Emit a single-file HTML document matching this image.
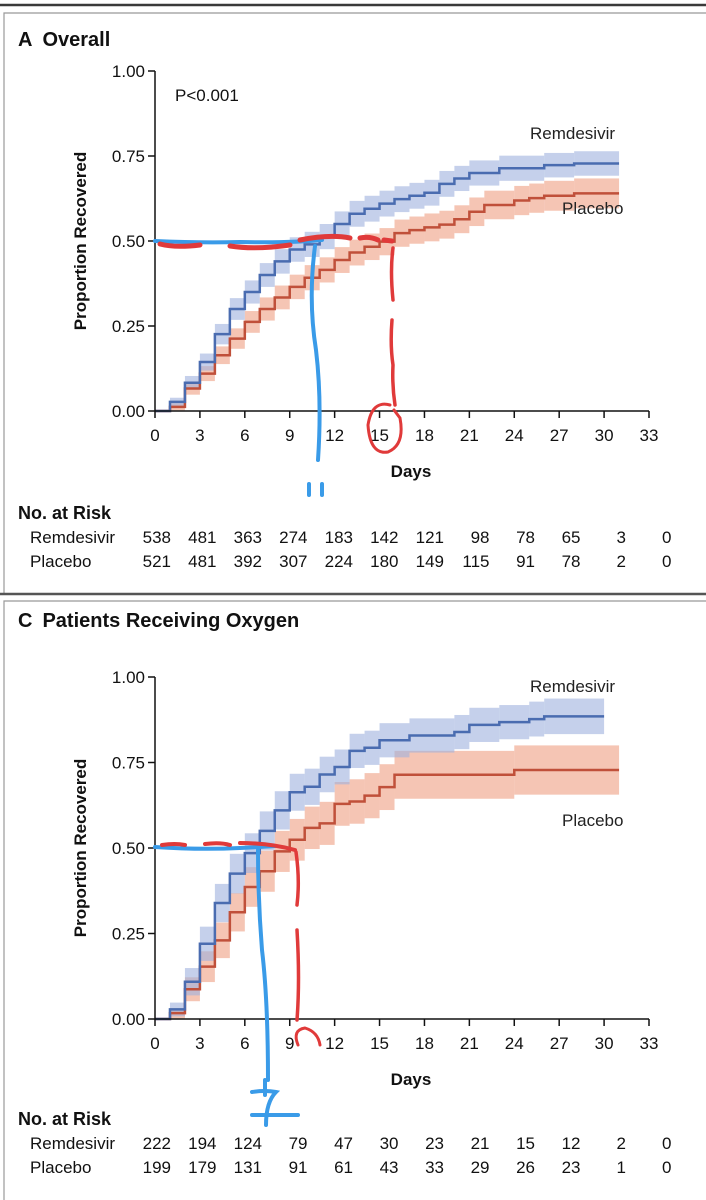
<!DOCTYPE html>
<html><head><meta charset="utf-8"><style>
html,body{margin:0;padding:0;background:#fff;}
svg{display:block;font-family:"Liberation Sans Narrow","Liberation Sans",sans-serif;}
</style></head><body>
<svg id="s" width="706" height="1200" viewBox="0 0 706 1200" xmlns="http://www.w3.org/2000/svg">
<rect x="0" y="0" width="706" height="1200" fill="#fff"/>
<line x1="0" y1="5" x2="706" y2="5" stroke="#3a3a3a" stroke-width="2.5"/>
<path d="M4 595 V13 H706" fill="none" stroke="#999" stroke-width="1.2"/>
<line x1="0" y1="594" x2="706" y2="594" stroke="#555" stroke-width="2.5"/>
<path d="M4 1200 V601 H706" fill="none" stroke="#999" stroke-width="1.2"/>
<text x="18" y="46" font-size="20" font-weight="bold" fill="#111">A<tspan dx="10">Overall</tspan></text>
<text x="18" y="627" font-size="20" font-weight="bold" fill="#111">C<tspan dx="10">Patients Receiving Oxygen</tspan></text>
<g id="chartA"></g>
<g id="chartC"></g>
<g id="annot" fill="none" stroke-linecap="round">
<path d="M155 241 Q200 243 240 242 Q290 243 322 240" stroke="#3a9be8" stroke-width="4"/>
<path d="M315 246 Q308 300 316 350 Q322 400 318 460" stroke="#3a9be8" stroke-width="4"/>
<path d="M309 484 V495 M322 484 V495" stroke="#3a9be8" stroke-width="4"/>
<path d="M160 244 Q175 248 200 245 M230 246 Q255 250 290 245 M300 240 Q330 234 350 238 M360 238 Q370 236 378 240 M384 240 L392 241" stroke="#e03a3a" stroke-width="5"/>
<path d="M393 248 Q390 270 393 300 M392 320 Q390 345 393 365 Q392 385 395 405" stroke="#e03a3a" stroke-width="3.5"/>
<path d="M390 405 Q372 400 368 425 Q370 455 388 452 Q405 445 400 418 L394 410" stroke="#e03a3a" stroke-width="3"/>
<path d="M155 847 Q200 850 240 848 Q260 847 275 846" stroke="#3a9be8" stroke-width="4"/>
<path d="M258 850 Q258 900 262 950 Q268 1000 268 1080 M265 1080 V1095" stroke="#3a9be8" stroke-width="4"/>
<path d="M252 1092 Q265 1090 276 1092 Q266 1102 266 1125 M252 1115 H298" stroke="#3a9be8" stroke-width="4"/>
<path d="M162 845 Q175 843 185 845 M205 844 Q220 842 230 845 M240 843 Q270 843 295 850" stroke="#e03a3a" stroke-width="4"/>
<path d="M296 852 Q300 880 297 905 M297 930 Q300 980 297 1020" stroke="#e03a3a" stroke-width="3.5"/>
<path d="M298 1045 Q292 1030 305 1028 Q318 1032 320 1045" stroke="#e03a3a" stroke-width="3"/>
</g>
</svg>
<script>
// ---- data: Panel A (Overall) ----
const xTickLabels = [0,3,6,9,12,15,18,21,24,27,30,33];
const yTickLabels = ["0.00","0.25","0.50","0.75","1.00"];
const yTickValues = [0,0.25,0.5,0.75,1];
const aRemDays = [0,1,2,3,4,5,6,7,8,9,10,11,12,13,14,15,16,17,18,19,20,21,23,26,28,31];
const aRemVals = [0,0.027,0.083,0.144,0.226,0.30,0.35,0.40,0.44,0.475,0.49,0.513,0.55,0.58,0.595,0.61,0.623,0.633,0.642,0.668,0.684,0.70,0.714,0.723,0.728,0.728];
const aRemCI   = [0,0.012,0.02,0.025,0.03,0.032,0.034,0.035,0.036,0.036,0.037,0.037,0.037,0.038,0.038,0.038,0.038,0.038,0.038,0.038,0.037,0.037,0.037,0.036,0.036,0.036];
const aPlaDays = [0,1,2,3,4,5,6,7,8,9,10,11,12,13,14,15,16,17,18,19,20,21,22,24,25,26,28,31];
const aPlaVals = [0,0.012,0.066,0.11,0.164,0.213,0.262,0.30,0.334,0.365,0.392,0.415,0.444,0.466,0.483,0.498,0.523,0.532,0.54,0.548,0.564,0.586,0.606,0.619,0.626,0.633,0.64,0.64];
const aPlaCI   = [0,0.01,0.018,0.022,0.026,0.03,0.032,0.034,0.035,0.036,0.037,0.037,0.038,0.038,0.039,0.04,0.04,0.04,0.041,0.041,0.041,0.042,0.042,0.043,0.043,0.044,0.044,0.044];
const aRiskRem = [538,481,363,274,183,142,121,98,78,65,3,0];
const aRiskPla = [521,481,392,307,224,180,149,115,91,78,2,0];
// ---- data: Panel C (Oxygen) ----
const cRemDays = [0,1,2,3,4,5,6,7,8,9,10,11,12,13,14,15,17,20,21,23,25,26,30];
const cRemVals = [0,0.028,0.109,0.22,0.339,0.425,0.485,0.55,0.61,0.663,0.679,0.715,0.737,0.784,0.793,0.815,0.829,0.839,0.86,0.868,0.877,0.885,0.885];
const cRemCI   = [0,0.02,0.04,0.05,0.056,0.058,0.058,0.057,0.056,0.054,0.053,0.052,0.051,0.05,0.05,0.05,0.05,0.05,0.05,0.05,0.051,0.052,0.052];
const cPlaDays = [0,1,2,3,4,5,6,7,8,9,10,11,12,13,14,15,16,24,31];
const cPlaVals = [0,0.017,0.087,0.153,0.23,0.312,0.386,0.432,0.49,0.524,0.559,0.572,0.629,0.636,0.653,0.678,0.714,0.728,0.728];
const cPlaCI   = [0,0.015,0.035,0.045,0.052,0.056,0.058,0.06,0.06,0.061,0.062,0.063,0.064,0.065,0.066,0.067,0.07,0.072,0.072];
const cRiskRem = [222,194,124,79,47,30,23,21,15,12,2,0];
const cRiskPla = [199,179,131,91,61,43,33,29,26,23,1,0];

const NS="http://www.w3.org/2000/svg";
function mk(tag,attrs,parent){const e=document.createElementNS(NS,tag);for(const k in attrs)e.setAttribute(k,attrs[k]);parent.appendChild(e);return e;}

function drawChart(g,y0px,y1px,remD,remV,remCI,plaD,plaV,plaCI,riskR,riskP,opts){
  const x=d=>155+d*(494/33);
  const y=v=>y0px+(y1px-y0px)*v;
  [[plaD,plaV,plaCI,"#ee9f82"],[remD,remV,remCI,"#9fb0de"]].forEach(([D,V,C,col],si)=>{
    for(let i=0;i<D.length-1;i++){
      if(C[i]<=0)continue;
      const r=mk("rect",{x:x(D[i]),y:y(V[i]+C[i]),width:x(D[i+1])-x(D[i]),height:y(V[i]-C[i])-y(V[i]+C[i]),fill:col,"fill-opacity":"0.6"},g);
      
      
    }
  });
  [[plaD,plaV,"#c0503a","placebo-line"],[remD,remV,"#4a6cb0","remdesivir-line"]].forEach(([D,V,col,nm])=>{
    let d="M"+x(D[0])+" "+y(V[0]);
    for(let i=1;i<D.length;i++){d+=" H"+x(D[i])+" V"+y(V[i]);}
    const p=mk("path",{d:d,fill:"none",stroke:col,"stroke-width":"2.5"},g);
    
    
  });
  const ax=mk("path",{d:`M155 ${y(1)} V${y(0)} H${x(33)}`,fill:"none",stroke:"#111","stroke-width":"1.5"},g);
  
  
  yTickValues.forEach((v,i)=>{
    mk("line",{x1:148,x2:155,y1:y(v),y2:y(v),stroke:"#111","stroke-width":"1.5"},g);
    const t=mk("text",{x:145,y:y(v)+6,"text-anchor":"end","font-size":"17",fill:"#111"},g);
    t.textContent=yTickLabels[i];
    
    
  });
  xTickLabels.forEach(d=>{
    mk("line",{x1:x(d),x2:x(d),y1:y(0),y2:y(0)+7,stroke:"#111","stroke-width":"1.5"},g);
    const t=mk("text",{x:x(d),y:y(0)+30,"text-anchor":"middle","font-size":"17",fill:"#111"},g);
    t.textContent=d;
    
    
  });
  const yt=mk("text",{transform:`translate(86 ${(y(0)+y(1))/2}) rotate(-90)`,"text-anchor":"middle","font-size":"17","font-weight":"bold",fill:"#111"},g);
  yt.textContent="Proportion Recovered";
  
  
  const xt=mk("text",{x:411,y:y(0)+66,"text-anchor":"middle","font-size":"17","font-weight":"bold",fill:"#111"},g);
  xt.textContent="Days";
  
  
  const l1=mk("text",{x:530,y:opts.remLabelY,"font-size":"17",fill:"#222"},g);
  l1.textContent="Remdesivir";
  
  
  const l2=mk("text",{x:562,y:opts.plaLabelY,"font-size":"17",fill:"#222"},g);
  l2.textContent="Placebo";
  
  
  const rt=opts.riskY;
  const h=mk("text",{x:18,y:rt,"font-size":"18","font-weight":"bold",fill:"#111"},g);
  h.textContent="No. at Risk";
  
  
  [["Remdesivir",riskR,rt+24],["Placebo",riskP,rt+48]].forEach(([nm,arr,yy])=>{
    const lb=mk("text",{x:30,y:yy,"font-size":"17",fill:"#111"},g);
    lb.textContent=nm;
    
    
    arr.forEach((n,i)=>{
      const t=mk("text",{x:171+i*45.5,y:yy,"text-anchor":"end","font-size":"17",fill:"#111"},g);
      t.textContent=n;
      
      
    });
  });
}
drawChart(document.getElementById("chartA"),411,71,aRemDays,aRemVals,aRemCI,aPlaDays,aPlaVals,aPlaCI,aRiskRem,aRiskPla,{remLabelY:139,plaLabelY:214,riskY:519});
drawChart(document.getElementById("chartC"),1019,677,cRemDays,cRemVals,cRemCI,cPlaDays,cPlaVals,cPlaCI,cRiskRem,cRiskPla,{remLabelY:692,plaLabelY:826,riskY:1125});
const pv=mk("text",{x:175,y:101,"font-size":"17",fill:"#111"},document.getElementById("chartA"));
pv.textContent="P<0.001";


const s=document.getElementById("s");s.appendChild(document.getElementById("annot"));
</script>
</body></html>
